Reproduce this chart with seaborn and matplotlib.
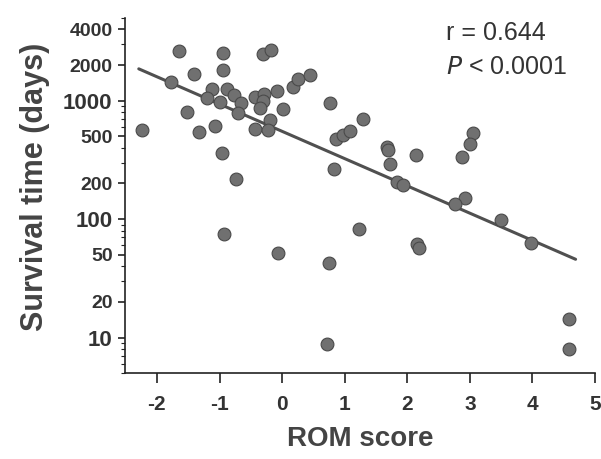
import numpy as np
import pandas as pd
import matplotlib
matplotlib.use("Agg")
import matplotlib.pyplot as plt
from matplotlib.ticker import FixedLocator, LogLocator, NullFormatter
import seaborn as sns

# ROM score vs. survival time (days)
rom_score = [
    -2.24, -1.65, -1.78, -1.40, -1.52, -1.32, -1.12, -1.20, -0.99, -1.07,
    -0.94, -0.94, -0.88, -0.77, -0.96, -0.73, -0.66, -0.70, -0.30, -0.18,
    -0.43, -0.29, -0.31, -0.35, -0.44, -0.19, -0.22, -0.08, 0.02, 0.17,
    0.25, 0.44, 0.77, 1.29, 0.86, 0.98, 1.08, 0.83, 1.68, 1.70,
    1.73, 2.14, 3.05, 3.00, 2.88, 1.83, 1.93, 2.93, 2.76, 3.50,
    3.97, 1.23, 2.15, 2.19, 4.59, 4.59, -0.93, -0.06, 0.75, 0.71,
]
survival_days = [
    567, 2620, 1430, 1695, 802, 546, 1256, 1054, 968, 606,
    2537, 1808, 1256, 1124, 360, 217, 955, 787, 2500, 2667,
    1074, 1146, 986, 867, 576, 681, 560, 1199, 851, 1306,
    1535, 1660, 955, 700, 473, 515, 557, 264, 410, 385,
    292, 348, 532, 432, 333, 207, 194, 150, 134, 98,
    63, 82, 62, 57, 14.4, 8.0, 75, 52, 43, 8.9,
]

x_ticks = [-2, -1, 0, 1, 2, 3, 4, 5]
y_ticks = [10, 20, 50, 100, 200, 500, 1000, 2000, 4000]
y_tick_labels = ["10", "20", "50", "100", "200", "500", "1000", "2000", "4000"]
decade_ticks = [10, 100, 1000]
stat_lines = ["r = 0.644", "P < 0.0001"]

df = pd.DataFrame({"rom": rom_score, "days": survival_days})

sns.set_theme(style="ticks")
plt.rcParams["font.family"] = ["Liberation Sans", "DejaVu Sans"]

fig = plt.figure(figsize=(6.01, 4.59), dpi=100)
ax = fig.add_axes([0.208, 0.187, 0.782, 0.774])

sns.scatterplot(data=df, x="rom", y="days", ax=ax, s=85, color="#707070",
                edgecolor="#4a4a4a", linewidth=0.8, zorder=3)

# least-squares fit of log10(days) on ROM score
slope, intercept = np.polyfit(df["rom"], np.log10(df["days"]), 1)
xs = np.array([df["rom"].min() - 0.05, df["rom"].max() + 0.1])
ax.plot(xs, 10 ** (intercept + slope * xs), color="#505050", lw=2.2, zorder=2)

ax.set_yscale("log")
ax.set_xlim(-2.51, 5.0)
ax.set_ylim(5, 5000)
ax.xaxis.set_major_locator(FixedLocator(x_ticks))
ax.set_xticklabels([str(t) for t in x_ticks])
ax.yaxis.set_major_locator(FixedLocator(y_ticks))
ax.set_yticklabels(y_tick_labels)
ax.yaxis.set_minor_locator(LogLocator(base=10, subs=np.arange(1, 10) * 1.0, numticks=20))
ax.yaxis.set_minor_formatter(NullFormatter())

for lab in ax.get_xticklabels():
    lab.set_fontweight("bold")
    lab.set_fontsize(15)
    lab.set_color("#333333")
for lab, val in zip(ax.get_yticklabels(), y_ticks):
    lab.set_fontweight("bold")
    lab.set_fontsize(16 if val in decade_ticks else 14)
    lab.set_color("#333333")

ax.tick_params(axis="x", which="major", length=7, width=1.2, color="#222222", pad=9)
ax.tick_params(axis="y", which="major", length=5, width=1.2, color="#222222", pad=4)
ax.tick_params(axis="y", which="minor", length=3, width=0.8, color="#222222")

for side in ["top", "right"]:
    ax.spines[side].set_visible(False)
for side in ["left", "bottom"]:
    ax.spines[side].set_color("#222222")
    ax.spines[side].set_linewidth(1.2)

ax.set_xlabel("ROM score", fontsize=20, fontweight="bold", color="#444444", labelpad=8)
ax.set_ylabel("Survival time (days)", fontsize=22, fontweight="bold", color="#444444")
ax.yaxis.set_label_coords(-0.16, 0.525)

ax.text(0.683, 0.99, stat_lines[0], transform=ax.transAxes, fontsize=18,
        color="#333333", va="top", ha="left")
ax.text(0.683, 0.895, "$\\it{P}$" + stat_lines[1][1:], transform=ax.transAxes,
        fontsize=18, color="#333333", va="top", ha="left")

fig.savefig("out.png", dpi=100)
